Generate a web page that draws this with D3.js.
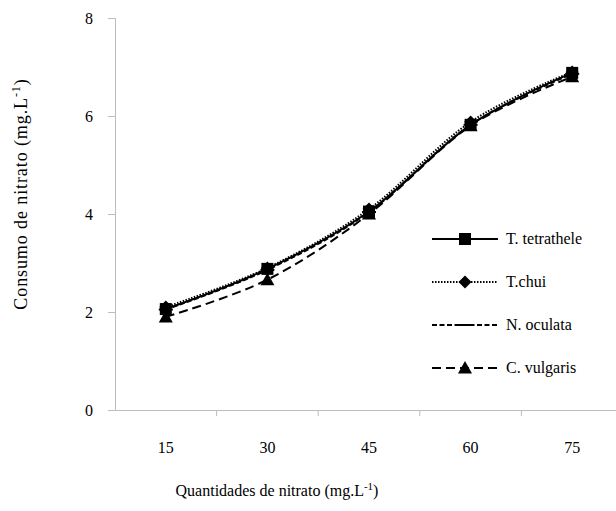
<!DOCTYPE html>
<html>
<head>
<meta charset="utf-8">
<script src="https://cdn.jsdelivr.net/npm/d3@7"></script>
<style>
  html, body { margin: 0; padding: 0; background: #fff; }
  svg text { font-family: "Liberation Serif", "Times New Roman", serif !important; fill: #000; }
</style>
</head>
<body>
<svg id="chart" width="616" height="511"></svg>
<script>
// Nitrate levels (categories) and consumption per species
const doses = ["15", "30", "45", "60", "75"];
const tTetrathele = [2.06, 2.88, 4.05, 5.82, 6.88];
const tChui = [2.1, 2.9, 4.1, 5.88, 6.9];
const nOculata = [2.05, 2.86, 4.04, 5.82, 6.86];
const cVulgaris = [1.9, 2.66, 4.0, 5.8, 6.8];
const yTicks = [0, 2, 4, 6, 8];

const series = [
  { name: "T. tetrathele", values: tTetrathele, dash: null, marker: "square" },
  { name: "T.chui", values: tChui, dash: "1.5,1.5", marker: "diamond" },
  { name: "N. oculata", values: nOculata, dash: "5,2.5", marker: "bar" },
  { name: "C. vulgaris", values: cVulgaris, dash: "9,5", marker: "triangle" }
];

const svg = d3.select("#chart");
const plotLeft = 115, plotBottom = 410, plotTop = 18;

const x = d3.scaleBand().domain(doses).range([plotLeft, plotLeft + 5 * 101.6]).padding(0);
const y = d3.scaleLinear().domain([0, 8]).range([plotBottom, plotTop]);

const axisColor = "#bdbdbd";

// y axis
const gy = svg.append("g").attr("transform", `translate(${plotLeft},0)`)
  .call(d3.axisLeft(y).tickValues(yTicks).tickSize(7).tickPadding(15));
gy.select(".domain").attr("stroke", axisColor);
gy.selectAll(".tick line").attr("stroke", axisColor);
gy.selectAll(".tick text").attr("font-size", 16);

// x axis with ticks at category boundaries
const gx = svg.append("g").attr("transform", `translate(0,${plotBottom})`)
  .call(d3.axisBottom(x).tickSize(0).tickPadding(32));
gx.select(".domain").attr("stroke", axisColor);
gx.selectAll(".tick text").attr("font-size", 16);
gx.selectAll(".bound").data(doses.slice(1)).enter().append("line")
  .attr("x1", d => x(d)).attr("x2", d => x(d))
  .attr("y1", 0).attr("y2", 6)
  .attr("stroke", axisColor);

// axis titles
svg.append("text")
  .attr("transform", "translate(27,194) rotate(-90)")
  .attr("text-anchor", "middle").attr("font-size", 18).attr("letter-spacing", 0.9)
  .html('Consumo de nitrato (mg.L<tspan dy="-7" font-size="12">-1</tspan><tspan dy="7">)</tspan>');
svg.append("text")
  .attr("x", 277).attr("y", 496)
  .attr("text-anchor", "middle").attr("font-size", 16)
  .html('Quantidades de nitrato (mg.L<tspan dy="-6" font-size="11">-1</tspan><tspan dy="6">)</tspan>');

const cx = d => x(d) + x.bandwidth() / 2;

function drawMarker(g, type, px, py) {
  if (type === "square") {
    g.append("rect").attr("x", px - 6).attr("y", py - 6).attr("width", 12).attr("height", 12).attr("fill", "#000");
  } else if (type === "diamond") {
    g.append("path").attr("d", `M${px},${py - 6.5}L${px + 6.5},${py}L${px},${py + 6.5}L${px - 6.5},${py}Z`).attr("fill", "#000");
  } else if (type === "triangle") {
    g.append("path").attr("d", `M${px},${py - 7}L${px + 7},${py + 5.5}L${px - 7},${py + 5.5}Z`).attr("fill", "#000");
  } else if (type === "bar") {
    g.append("line").attr("x1", px - 7).attr("x2", px + 7).attr("y1", py).attr("y2", py)
      .attr("stroke", "#000").attr("stroke-width", 2);
  }
}

const line = d3.line()
  .x((d, i) => cx(doses[i]))
  .y(d => y(d))
  .curve(d3.curveCatmullRom.alpha(0));

const plot = svg.append("g");
series.forEach(s => {
  plot.append("path").datum(s.values)
    .attr("d", line)
    .attr("fill", "none").attr("stroke", "#000").attr("stroke-width", 2)
    .attr("stroke-dasharray", s.dash);
});
series.forEach(s => {
  const g = plot.append("g");
  s.values.forEach((v, i) => drawMarker(g, s.marker, cx(doses[i]), y(v)));
});

// legend
const legend = svg.append("g");
series.forEach((s, i) => {
  const ly = 239 + i * 43;
  const g = legend.append("g");
  g.append("line").attr("x1", 432).attr("x2", 498).attr("y1", ly).attr("y2", ly)
    .attr("stroke", "#000").attr("stroke-width", 2).attr("stroke-dasharray", s.dash);
  drawMarker(g, s.marker, 465, ly);
  g.append("text").attr("x", 506).attr("y", ly + 5).attr("font-size", 16).text(s.name);
});
</script>
</body>
</html>
